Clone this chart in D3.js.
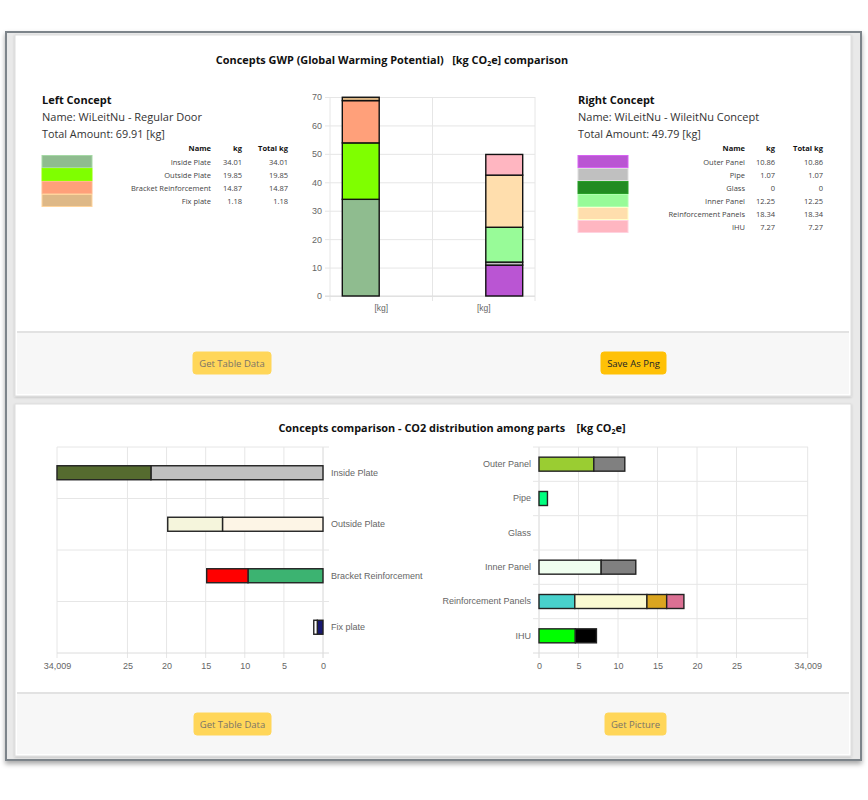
<!DOCTYPE html>
<html><head><meta charset="utf-8">
<script src="https://cdn.jsdelivr.net/npm/d3@7"></script>
<style>
html,body{margin:0;padding:0;background:#fff;}
svg{display:block;}
</style></head>
<body>
<svg id="c" width="868" height="800"></svg>
<script>
// ---------- DATA ----------
const leftName = "WiLeitNu - Regular Door";
const rightName = "WiLeitNu - WileitNu Concept";
const leftTotal = 69.91;
const rightTotal = 49.79;
const leftParts = ["Inside Plate", "Outside Plate", "Bracket Reinforcement", "Fix plate"];
const leftKg = [34.01, 19.85, 14.87, 1.18];
const rightParts = ["Outer Panel", "Pipe", "Glass", "Inner Panel", "Reinforcement Panels", "IHU"];
const rightKg = [10.86, 1.07, 0, 12.25, 18.34, 7.27];
const gwpCategories = ["[kg]", "[kg]"];
const gwpTicks = [0, 10, 20, 30, 40, 50, 60, 70];
// bottom: distribution of each part into sub-components (kg CO2e)
const leftSegments = [[22.0, 12.01], [12.85, 7.0], [9.59, 5.28], [0.73, 0.45]];
const rightSegments = [[6.94, 3.92], [1.07], [], [7.87, 4.38], [4.53, 9.13, 2.5, 2.18], [4.6, 2.67]];
const distTicks = [0, 5, 10, 15, 20, 25];
const distMax = 34.009;
const distMaxLabel = "34,009";

// ---------- STYLES ----------
const leftColors = ["#8fbc8f", "#7fff00", "#ffa07a", "#deb887"];
const rightColors = ["#ba55d3", "#c0c0c0", "#228b22", "#98fb98", "#ffdead", "#ffb6c1"];
const leftSegColors = [["#c0c0c0", "#556b2f"], ["#fdf5e6", "#f5f5dc"], ["#3cb371", "#ff0000"], ["#191970", "#ffffff"]];
const rightSegColors = [["#9acd32", "#808080"], ["#00ff7f"], [], ["#f0fff0", "#808080"], ["#48d1cc", "#fafad2", "#daa520", "#db7093"], ["#00ff00", "#000000"]];

const UI = "'Open Sans', 'Noto Sans', sans-serif";
const AX = "'Liberation Sans', Arial, sans-serif";
const grid = "#e6e6e6";
const tickCol = "#666";

const svg = d3.select("#c");
const defs = svg.append("defs");
const f = defs.append("filter").attr("id", "sh").attr("x", "-5%").attr("y", "-5%").attr("width", "110%").attr("height", "110%");
f.append("feDropShadow").attr("dx", 0).attr("dy", 3).attr("stdDeviation", 2.5).attr("flood-color", "#000").attr("flood-opacity", 0.35);
const f2 = defs.append("filter").attr("id", "sh2").attr("x", "-5%").attr("y", "-5%").attr("width", "110%").attr("height", "110%");
f2.append("feDropShadow").attr("dx", 0).attr("dy", 1).attr("stdDeviation", 1.2).attr("flood-color", "#000").attr("flood-opacity", 0.18);

// ---------- FRAME ----------
svg.append("rect").attr("x", 6).attr("y", 32).attr("width", 855).attr("height", 728)
  .attr("fill", "#e9e9e9").attr("stroke", "#7d848a").attr("stroke-width", 2).attr("filter", "url(#sh)");

function card(y, h, footY) {
  svg.append("rect").attr("x", 15).attr("y", y).attr("width", 836).attr("height", h)
    .attr("fill", "#fff").attr("stroke", "#dedede").attr("stroke-width", 1).attr("filter", "url(#sh2)");
  svg.append("rect").attr("x", 17).attr("y", footY).attr("width", 832).attr("height", y + h - footY - 2)
    .attr("fill", "#f7f7f7");
  svg.append("line").attr("x1", 17).attr("x2", 849).attr("y1", footY).attr("y2", footY)
    .attr("stroke", "#e2e2e2").attr("stroke-width", 2);
}
card(35, 361, 332);
card(404, 352, 693);

function button(x, y, w, label, active) {
  svg.append("rect").attr("x", x).attr("y", y).attr("width", w).attr("height", 22).attr("rx", 3)
    .attr("fill", active ? "#ffc107" : "#ffd659").attr("stroke", active ? "#ffc107" : "#ffd65a");
  svg.append("text").attr("x", x + w / 2).attr("y", y + 14.5).attr("text-anchor", "middle")
    .attr("font-family", UI).attr("font-size", 9.5).attr("fill", active ? "#212529" : "#7a7368").text(label);
}
button(193, 352, 78, "Get Table Data", false);
button(601, 352, 65, "Save As Png", true);
button(194, 713, 77, "Get Table Data", false);
button(605, 713, 61, "Get Picture", false);

// ---------- TITLES ----------
function title(x, y, pre, post) {
  const t = svg.append("text").attr("x", x).attr("y", y).attr("text-anchor", "middle")
    .attr("font-family", UI).attr("font-weight", "bold").attr("font-size", 10.9).attr("fill", "#111");
  t.append("tspan").text(pre + "CO");
  t.append("tspan").attr("font-size", 7).attr("dy", 2).text("2");
  t.append("tspan").attr("dy", -2).text(post);
}
title(392, 64, "Concepts GWP (Global Warming Potential)\u00a0\u00a0\u00a0[kg ", "e] comparison");
title(452, 432, "Concepts comparison - CO2 distribution among parts\u00a0\u00a0\u00a0\u00a0[kg ", "e]");

// ---------- CONCEPT INFO + LEGEND TABLES ----------
function concept(x, head, name, total, parts, kg, colors, cols) {
  svg.append("text").attr("x", x).attr("y", 104).attr("font-family", UI).attr("font-weight", "bold")
    .attr("font-size", 11).attr("fill", "#111").text(head);
  svg.append("text").attr("x", x).attr("y", 121).attr("font-family", UI)
    .attr("font-size", 11).attr("fill", "#333").text("Name: " + name);
  svg.append("text").attr("x", x).attr("y", 138).attr("font-family", UI)
    .attr("font-size", 10.8).attr("fill", "#333").text("Total Amount: " + total.toFixed(2) + " [kg]");
  const hdr = ["Name", "kg", "Total kg"];
  hdr.forEach((h, i) => svg.append("text").attr("x", cols[i]).attr("y", 151).attr("text-anchor", "end")
    .attr("font-family", UI).attr("font-weight", "bold").attr("font-size", 7.5).attr("fill", "#111").text(h));
  parts.forEach((p, i) => {
    const ry = 155 + i * 13;
    svg.append("rect").attr("x", x).attr("y", ry + 0.5).attr("width", 50).attr("height", 12)
      .attr("fill", colors[i]).attr("stroke", d3.color(colors[i]).brighter(0.4)).attr("stroke-width", 1);
    const vals = [p, String(kg[i]), String(kg[i])];
    vals.forEach((v, j) => svg.append("text").attr("x", cols[j]).attr("y", ry + 9.5).attr("text-anchor", "end")
      .attr("font-family", UI).attr("font-size", 7.5).attr("fill", "#444").text(v));
  });
}
concept(42, "Left Concept", leftName, leftTotal, leftParts, leftKg, leftColors, [211, 242, 288]);
concept(578, "Right Concept", rightName, rightTotal, rightParts, rightKg, rightColors, [745, 775, 823]);

// ---------- TOP STACKED CHART ----------
const gTop = svg.append("g");
const xCat = d3.scaleBand().domain(d3.range(gwpCategories.length)).range([330, 535]);
const bw = xCat.bandwidth();
const xSlot = d3.scaleBand().domain([0, 1]).range([0.1 * bw, 0.9 * bw]).paddingInner(0.1).paddingOuter(0.05);
const yG = d3.scaleLinear().domain([0, 70]).range([296, 97]);

// horizontal grid
gTop.append("g").attr("transform", "translate(330,0)")
  .call(d3.axisLeft(yG).tickValues(gwpTicks).tickSize(-205).tickFormat(""))
  .call(g => { g.select(".domain").remove(); g.selectAll("line").attr("stroke", grid); });
// y ticks
gTop.append("g").attr("transform", "translate(330,0)")
  .call(d3.axisLeft(yG).tickValues(gwpTicks).tickSize(5).tickPadding(3))
  .call(g => {
    g.select(".domain").remove();
    g.selectAll("line").attr("stroke", grid);
    g.selectAll("text").attr("font-family", AX).attr("font-size", 9).attr("fill", tickCol);
  });
// vertical grid at band edges
const edges = d3.range(gwpCategories.length + 1).map(i => 330 + i * bw);
gTop.selectAll(".vg").data(edges).join("line").attr("x1", d => d).attr("x2", d => d)
  .attr("y1", 97).attr("y2", 301).attr("stroke", grid);
gTop.append("line").attr("x1", 325).attr("x2", 535).attr("y1", yG(0)).attr("y2", yG(0)).attr("stroke", "#dcdcdc");
// x labels
gTop.append("g").attr("transform", "translate(0,296)")
  .call(d3.axisBottom(xCat).tickSize(0).tickPadding(9).tickFormat(i => gwpCategories[i]))
  .call(g => {
    g.select(".domain").remove();
    g.selectAll("text").attr("font-family", AX).attr("font-size", 8.5).attr("fill", tickCol);
  });

function stackBar(vals, colors, cat, slot) {
  let acc = 0;
  const x0 = xCat(cat) + xSlot(slot);
  vals.forEach((v, i) => {
    const y0 = yG(acc), y1 = yG(acc + v);
    acc += v;
    gTop.append("rect").attr("x", x0).attr("width", xSlot.bandwidth())
      .attr("y", y1).attr("height", Math.max(0, y0 - y1))
      .attr("fill", colors[i]).attr("stroke", "#111").attr("stroke-width", 1.4);
  });
}
stackBar(leftKg, leftColors, 0, 0);
stackBar(rightKg, rightColors, 1, 1);

// ---------- BOTTOM HORIZONTAL CHARTS ----------
const barH = 14;
function hChart(parts, segs, segColors, xs, axisX, labelSide, gridX1, gridX2) {
  const g = svg.append("g");
  const yB = d3.scaleBand().domain(parts).range([447, 653]);
  const tv = distTicks.concat([distMax]);
  // vertical grid
  g.selectAll(".vg").data(tv).join("line")
    .attr("x1", d => xs(d)).attr("x2", d => xs(d)).attr("y1", 447).attr("y2", 658)
    .attr("stroke", d => d === 0 ? "#d6d6d6" : grid);
  // horizontal band grid
  const bnds = parts.map(p => yB(p)).concat([653]);
  g.selectAll(".hg").data(bnds).join("line")
    .attr("x1", gridX1).attr("x2", gridX2).attr("y1", d => d).attr("y2", d => d)
    .attr("stroke", (d, i) => i === bnds.length - 1 ? "#dcdcdc" : grid);
  // x ticks
  g.append("g").attr("transform", "translate(0,653)")
    .call(d3.axisBottom(xs).tickValues(tv).tickSize(0).tickPadding(10)
      .tickFormat(d => d === distMax ? distMaxLabel : d3.format("d")(d)))
    .call(a => {
      a.select(".domain").remove();
      a.selectAll("text").attr("font-family", AX).attr("font-size", 9).attr("fill", tickCol);
    });
  // category labels
  const ax = labelSide === "right" ? d3.axisRight(yB) : d3.axisLeft(yB);
  g.append("g").attr("transform", `translate(${axisX},0)`)
    .call(ax.tickSize(0).tickPadding(8))
    .call(a => {
      a.select(".domain").remove();
      a.selectAll("text").attr("font-family", AX).attr("font-size", 9).attr("fill", tickCol);
    });
  // bars
  parts.forEach((p, i) => {
    let acc = 0;
    const cy = yB(p) + yB.bandwidth() / 2;
    segs[i].forEach((v, j) => {
      const a = xs(acc), b = xs(acc + v);
      acc += v;
      g.append("rect").attr("x", Math.min(a, b)).attr("width", Math.abs(b - a))
        .attr("y", cy - barH / 2).attr("height", barH)
        .attr("fill", segColors[i][j]).attr("stroke", "#222").attr("stroke-width", 1.4);
    });
  });
}
const xLeft = d3.scaleLinear().domain([0, distMax]).range([323, 57]);
const xRight = d3.scaleLinear().domain([0, distMax]).range([539, 807.7]);
hChart(leftParts, leftSegments, leftSegColors, xLeft, 323, "right", 57, 329);
hChart(rightParts, rightSegments, rightSegColors, xRight, 539, "left", 533, 808);
</script>
</body></html>
